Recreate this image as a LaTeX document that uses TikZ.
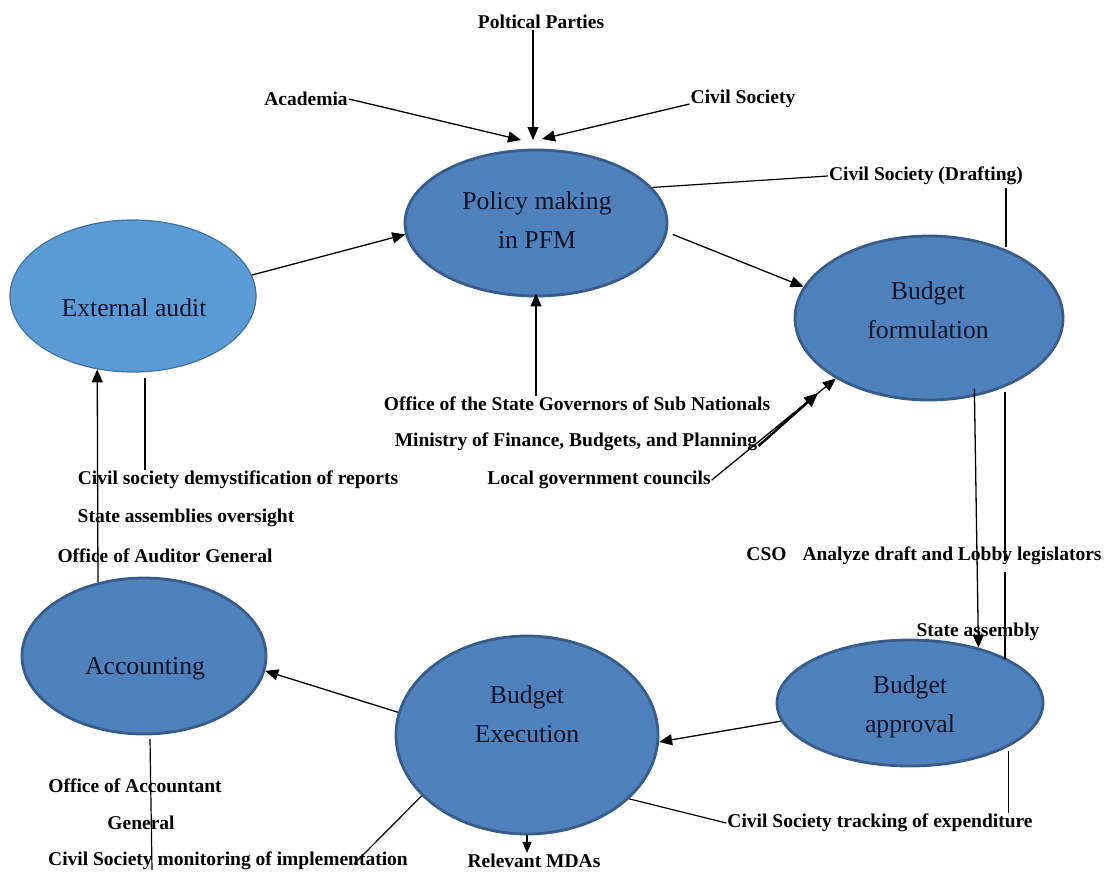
\documentclass[tikz,border=0pt]{standalone}
\usepackage{fontspec}
\setmainfont{Liberation Serif}
\usetikzlibrary{shapes.geometric,arrows.meta,calc}
\definecolor{blueA}{HTML}{4F81BD}
\definecolor{blueB}{HTML}{5B9BD5}
\definecolor{edgeA}{HTML}{385D8A}
\definecolor{edgeB}{HTML}{41719C}
\definecolor{inktext}{HTML}{141428}
\tikzset{
  bubble/.style={ellipse, fill=blueA, draw=edgeA, line width=2.8pt, inner sep=0pt},
  lbl/.style={font=\fontsize{19.5}{22}\selectfont\bfseries, inner sep=1pt, text=black},
  etext/.style={font=\fontsize{25.7}{39}\selectfont, align=center, text=inktext, inner sep=0pt},
  arr/.style={line width=1.3pt, -{Triangle[length=13pt,width=11pt]}},
  ln/.style={line width=1.2pt},
}
\begin{document}
\begin{tikzpicture}[x=1pt,y=-1pt]
\useasboundingbox (0,0) rectangle (1105,871);
% bubbles
\node[bubble, fill=blueB, draw=edgeB, line width=1.2pt, minimum width=246pt, minimum height=152pt] (ext) at (133,296) {};
\node[bubble, minimum width=262pt, minimum height=146pt] (pol) at (536,223) {};
\node[bubble, minimum width=268pt, minimum height=164pt] (form) at (929,318) {};
\node[bubble, minimum width=244pt, minimum height=156pt] (acc) at (144,656) {};
\node[bubble, minimum width=262pt, minimum height=198pt] (exe) at (527,735) {};
\node[bubble, minimum width=266pt, minimum height=126pt] (appr) at (910,703) {};
% bubble texts
\node[etext] (exttxt) at (134,308) {External audit};
\node[etext] (poltxt) at (537,220) {Policy making\\in PFM};
\node[etext] (formtxt) at (928,310) {Budget\\formulation};
\node[etext] (acctxt) at (145,669) {Accounting};
\node[etext] (exetxt) at (527,714) {Budget\\Execution};
\node[etext] (apprtxt) at (910,707) {Budget\\approval};
% labels
\node[lbl] (pp) at (541,22) {Poltical Parties};
\node[lbl] (acad) at (306,99) {Academia};
\node[lbl] (cs) at (743,99) {Civil Society};
\node[lbl] (csd) at (926,176) {Civil Society (Drafting)};
\node[lbl] (gov) at (577,404) {Office of the State Governors of Sub Nationals};
\node[lbl] (min) at (576,442) {Ministry of Finance, Budgets, and Planning};
\node[lbl] (loc) at (599,480) {Local government councils};
\node[lbl] (dem) at (238,480) {Civil society demystification of reports};
\node[lbl] (sao) at (186,518) {State assemblies oversight};
\node[lbl] (oag) at (165,556) {Office of Auditor General};
\node[lbl] (cso) at (924,556) {CSO\hspace{16pt}Analyze draft and Lobby legislators};
\node[lbl] (sa) at (978,632) {State assembly};
\node[lbl] (oac) at (135,786) {Office of Accountant};
\node[lbl] (gen) at (141,823) {General};
\node[lbl] (csm) at (228,861) {Civil Society monitoring of implementation};
\node[lbl] (mda) at (534,861) {Relevant MDAs};
\node[lbl] (cst) at (880,823) {Civil Society tracking of expenditure};
% helper coordinates
\coordinate (tipP) at (533,140);
\coordinate (tipA) at (521,140);
\coordinate (tipC) at (542,139);
\coordinate (dv1) at (1006,188);
\coordinate (dv2) at (1006,247);
\coordinate (mtip) at (818,393);
\coordinate (c1) at (1005,392);
\coordinate (c2) at (1005,561);
\coordinate (c3) at (1005,572);
\coordinate (c4) at (1005,659);
\coordinate (csmEnd) at (354,864);
\coordinate (accTop) at (150,739);
\coordinate (accEnd) at (152,870);
\coordinate (extLow) at (145,378);
% connectors into policy making
\draw[arr] (pp.south -| tipP) -- (tipP);
\draw[arr] (acad.east) -- (tipA);
\draw[arr] ([yshift=-5pt]cs.west) -- (tipC);
\draw[ln] (pol.17) -- (csd.west);
\draw[ln] (dv1) -- (dv2);
\draw[arr] ([xshift=6pt]pol.-5) -- (form.166);
\draw[arr] (ext.10) -- (pol.185);
\draw[arr] (pol.south |- gov.north) -- ([yshift=4pt]pol.south);
% into formulation
\draw[line width=2.4pt, -{Triangle[length=14pt,width=12pt]}] ([yshift=-4pt]min.east) -- (mtip);
\draw[arr] (loc.east) -- (form.213);
% formulation to approval
\draw[arr] ([yshift=8pt]form.-60) -- (appr.39);
\draw[ln] (c1) -- (c2);
\draw[ln] (c3) -- (c4);
% approval to execution
\draw[arr] (appr.188) -- (exe.-3);
\draw[ln] ([yshift=-4pt]appr.-24) -- (appr.-24 |- cst.north);
\draw[ln] (exe.-32) -- (cst.west);
\draw[ln] (exe.210) -- (csmEnd);
\draw[line width=1.2pt, -{Triangle[length=11pt,width=9pt]}] (exe.south) -- (exe.south |- mda.north);
% execution to accounting
\draw[arr] (exe.170) -- (acc.-7);
\draw[ln] (accTop) -- (accEnd);
% accounting to external audit
\draw[arr] (acc.122.6) -- (ext.244.4);
\draw[ln] (extLow) -- (extLow |- dem.north);
\end{tikzpicture}
\end{document}
